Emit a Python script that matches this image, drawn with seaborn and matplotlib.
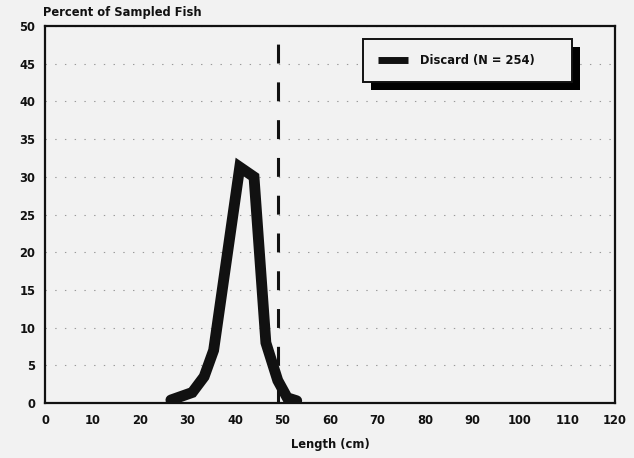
import matplotlib
matplotlib.use('Agg')
import matplotlib.pyplot as plt
import matplotlib.patheffects as pe
import seaborn as sns
import pandas as pd

# length-frequency of the discarded fish
length_cm = [26.5, 31, 33.5, 35.5, 41, 44, 46.5, 49, 51, 53]
pct_fish = [0.4, 1.4, 3.5, 7, 31.3, 30, 8, 3, 0.7, 0.3]
series_label = 'Discard (N = 254)'
min_size = 49  # dashed reference line

x_ticks = list(range(0, 121, 10))
y_ticks = list(range(0, 51, 5))

bg = '#f2f2f2'
ink = '#111111'
fs = 8.3

sns.set_style('white')
plt.rcParams['font.family'] = ['DejaVu Sans']
plt.rcParams['lines.scale_dashes'] = False

fig = plt.figure(figsize=(6.34, 4.58), dpi=100, facecolor=bg)
ax = fig.add_axes([0.071, 0.12, 0.899, 0.823], facecolor=bg)

df = pd.DataFrame({'Length': length_cm, 'Percent': pct_fish})
sns.lineplot(data=df, x='Length', y='Percent', ax=ax, color=ink, lw=7.8,
             label=series_label, sort=False, solid_joinstyle='miter')

# dashed vertical line
ax.plot([min_size, min_size], [0, 50], color=ink, lw=2.2, dashes=(13.6, 13.6))

ax.set_xlim(0, 120)
ax.set_ylim(0, 50)
ax.set_xticks(x_ticks)
ax.set_yticks(y_ticks)

ax.grid(axis='y', color='#9a9a9a', lw=0.8, linestyle=(0, (1, 6)))
ax.grid(axis='x', visible=False)

for s in ax.spines.values():
    s.set_color(ink)
    s.set_linewidth(1.6)

ax.tick_params(axis='x', direction='in', length=4, width=1.4, color=ink,
               pad=8, labelsize=fs, labelcolor=ink)
ax.tick_params(axis='y', length=0, pad=7, labelsize=fs, labelcolor=ink)
for lab in ax.get_xticklabels() + ax.get_yticklabels():
    lab.set_fontweight('bold')

ax.set_xlabel('Length (cm)', fontsize=fs, fontweight='bold', color=ink, labelpad=8)
ax.set_ylabel('')
ax.text(-0.0035, 1.027, 'Percent of Sampled Fish', transform=ax.transAxes,
        ha='left', va='baseline', fontsize=fs, fontweight='bold', color=ink)

leg = ax.legend(loc='upper left', bbox_to_anchor=(0.558, 0.9655, 0.367, 0.0),
                mode='expand', borderaxespad=0, borderpad=1.3, handlelength=2.6,
                handletextpad=1.0, fancybox=False, frameon=True,
                prop={'size': fs, 'weight': 'bold'})
frame = leg.get_frame()
frame.set_edgecolor(ink)
frame.set_linewidth(1.4)
frame.set_facecolor(bg)
frame.set_alpha(1)
frame.set_path_effects([pe.withSimplePatchShadow(offset=(5.8, -5.8),
                                                 shadow_rgbFace='black', alpha=1.0)])
for ln in leg.get_lines():
    ln.set_linewidth(5)
    ln.set_solid_capstyle('butt')
for t in leg.get_texts():
    t.set_color(ink)

fig.savefig('out.png', dpi=100, facecolor=bg)
